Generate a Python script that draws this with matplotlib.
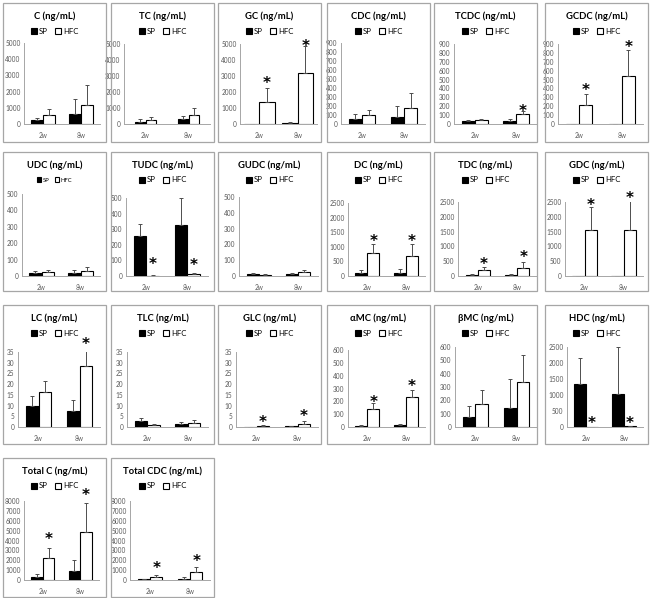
import matplotlib
matplotlib.use("Agg")
import matplotlib.pyplot as plt
from matplotlib.patches import Rectangle
import numpy as np

# bile acid panels (ng/mL), order: [2w, 8w]
names = ["C", "TC", "GC", "CDC", "TCDC", "GCDC",
         "UDC", "TUDC", "GUDC", "DC", "TDC", "GDC",
         "LC", "TLC", "GLC", "αMC", "βMC", "HDC",
         "Total C", "Total CDC"]
weeks = ["2w", "8w"]

sp_mean = [[230, 600], [120, 300], [20, 50], [55, 74], [37, 37], [3, 3],
           [18, 20], [258, 325], [12, 13], [90, 90], [45, 50], [5, 5],
           [9.8, 7.7], [2.6, 1.5], [0.2, 0.3], [8, 16], [75, 139], [1355, 1020],
           [340, 910], [100, 110]]
sp_err = [[170, 920], [170, 230], [10, 50], [52, 126], [8, 23], [0, 0],
          [13, 19], [75, 177], [6, 7], [127, 150], [25, 25], [0, 0],
          [4.6, 4.8], [1.5, 1.0], [0, 0], [4, 4], [80, 219], [788, 1470],
          [230, 1070], [50, 190]]
hfc_mean = [[550, 1200], [250, 580], [1400, 3180], [96, 177], [45, 112], [213, 537],
            [25, 29], [3, 10], [7, 23], [790, 700], [195, 275], [1545, 1570],
            [16.4, 28.3], [0.8, 2.0], [0.7, 1.6], [141, 230], [174, 338], [3, 30],
            [2185, 4900], [340, 840]]
hfc_err = [[390, 1180], [200, 450], [840, 1670], [59, 163], [15, 33], [119, 291],
           [14, 24], [1, 9], [3, 13], [295, 395], [115, 205], [795, 1070],
           [5.3, 7.7], [0.4, 1.3], [0.2, 1.2], [49, 62], [101, 202], [0, 0],
           [1105, 2930], [130, 470]]
# height of the significance star over the HFC bar (None = no star)
star_y = [[None, None], [None, None], [2800, 5100], [None, None], [None, 186], [425, 910],
          [None, None], [100, 96], [None, None], [1313, 1313], [534, 761], [2520, 2770],
          [None, 40.3], [None, None], [4.1, 7.0], [227, 347], [None, None], [231, 231],
          [4540, 8970], [1580, 2320]]

y_max = [5000, 5000, 5000, 900, 900, 900,
         500, 500, 500, 2500, 2500, 2500,
         35, 35, 35, 600, 600, 2500,
         8000, 8000]
y_step = [1000, 1000, 1000, 100, 100, 100,
          100, 100, 100, 500, 500, 500,
          5, 5, 5, 100, 100, 500,
          1000, 1000]

# layout in pixels
W, H = 650, 598
panel_left = [3, 111, 218, 327, 434, 545]
panel_top = [3, 152, 305, 458]
panel_w, panel_h = 103, 139
# plot area per panel: left, right, top, bottom
axes_box = [(24, 100, 43, 124), (124, 210, 44, 124), (240, 317, 44, 124),
            (341, 425, 43, 124), (454, 537, 44, 124), (558, 643, 44, 124),
            (22, 100, 194, 276), (126, 208, 198, 276), (239, 318, 197, 276),
            (348, 425, 203, 276), (458, 537, 202, 276), (565, 643, 202, 276),
            (18, 100, 352, 427), (127, 208, 352, 427), (236, 318, 352, 427),
            (348, 425, 350, 427), (455, 537, 347, 427), (567, 643, 347, 427),
            (24, 99, 501, 580), (130, 210, 501, 580)]
bar_w = {1: 0.24, 2: 0.4}

plt.rcParams["font.family"] = ["Lato", "DejaVu Sans"]
grey = "#595959"

fig = plt.figure(figsize=(W / 100, H / 100), dpi=100)
fig.patch.set_facecolor("white")

for i, name in enumerate(names):
    row, col = divmod(i, 6)
    pl, pt = panel_left[col], panel_top[row]
    fig.add_artist(Rectangle((pl / W, 1 - (pt + panel_h) / H), panel_w / W, panel_h / H,
                             transform=fig.transFigure, fill=False,
                             ec="#A6A6A6", lw=0.9))
    cx = (pl + panel_w / 2) / W
    fig.text(cx, 1 - (pt + 13) / H, name + " (ng/mL)", ha="center", va="center",
             fontsize=6.8, fontweight="bold", color="black")

    l, r, t, b = axes_box[i]
    ax = fig.add_axes([l / W, 1 - b / H, (r - l) / W, (b - t) / H])
    x = np.arange(len(weeks))
    w = bar_w.get(i, 0.31)
    ekw = dict(ecolor="#4d4d4d", elinewidth=0.7, capsize=1.5, capthick=0.7)
    b1 = ax.bar(x - w / 2, sp_mean[i], w, color="black", edgecolor="black", lw=0.8,
                yerr=[[0, 0], sp_err[i]], error_kw=ekw, label="SP")
    b2 = ax.bar(x + w / 2, hfc_mean[i], w, color="white", edgecolor="black", lw=0.8,
                yerr=[[0, 0], hfc_err[i]], error_kw=ekw, label="HFC")
    for k in range(len(weeks)):
        if star_y[i][k] is not None:
            ax.annotate("*", (x[k] + w / 2, star_y[i][k]), xytext=(0, -6.3),
                        textcoords="offset points", ha="center", va="baseline",
                        fontsize=11, fontweight="bold", family="DejaVu Sans",
                        annotation_clip=False)

    ax.set_xlim(-0.5, 1.5)
    ax.set_ylim(0, y_max[i])
    ax.set_yticks(np.arange(0, y_max[i] + y_step[i] / 2, y_step[i]))
    ax.set_xticks(x, weeks)
    for s in ["top", "right"]:
        ax.spines[s].set_visible(False)
    for s in ["left", "bottom"]:
        ax.spines[s].set_color("#A6A6A6")
        ax.spines[s].set_linewidth(0.7)
    ax.tick_params(axis="y", length=0, labelsize=4.7, colors=grey, pad=2.5)
    ax.tick_params(axis="x", length=0, labelsize=4.7, colors=grey, pad=6)
    ax.patch.set_alpha(0)

    fs = 4.2 if name == "UDC" else 5.6
    ax.legend(handles=[b1, b2], loc="center", ncol=2, frameon=False, fontsize=fs,
              handlelength=0.8, handleheight=0.8, handletextpad=0.25,
              columnspacing=0.9, borderpad=0,
              bbox_to_anchor=(cx, 1 - (pt + 28) / H), bbox_transform=fig.transFigure)

fig.savefig("out.png", dpi=100)
